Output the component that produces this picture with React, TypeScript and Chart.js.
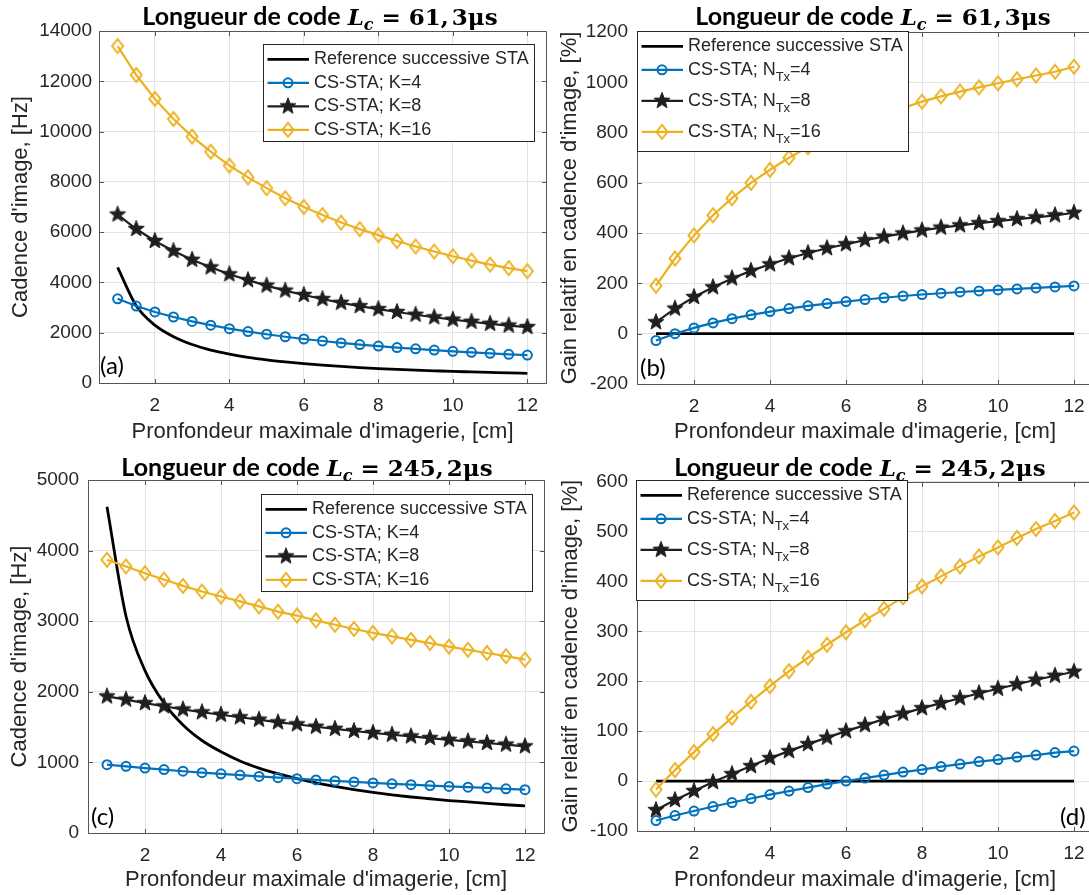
import React, { useEffect, useRef } from "react";
import { Chart, registerables } from "chart.js";

Chart.register(...registerables);

// ---------------- data ----------------
const depthCm = [1, 1.5, 2, 2.5, 3, 3.5, 4, 4.5, 5, 5.5, 6, 6.5, 7, 7.5, 8, 8.5, 9, 9.5, 10, 10.5, 11, 11.5, 12];
const xTickValues = [2, 4, 6, 8, 10, 12];

// (a) frame rate, Lc = 61,3 µs  [Hz]
const refRateA = [4600, 3070, 2300, 1840, 1530, 1310, 1150, 1020, 920, 840, 770, 710, 660, 615, 575, 540, 510, 485, 460, 440, 420, 400, 385];
const rateK4A = [3350, 3060, 2825, 2625, 2450, 2300, 2160, 2045, 1940, 1840, 1750, 1670, 1595, 1530, 1470, 1410, 1360, 1310, 1260, 1220, 1180, 1140, 1110];
const rateK8A = [6700, 6125, 5650, 5250, 4900, 4600, 4325, 4090, 3875, 3675, 3500, 3340, 3190, 3060, 2940, 2825, 2715, 2615, 2520, 2435, 2355, 2285, 2225];
const rateK16A = [13400, 12250, 11300, 10500, 9800, 9200, 8650, 8180, 7750, 7350, 7000, 6680, 6380, 6120, 5880, 5650, 5430, 5230, 5040, 4870, 4710, 4570, 4450];

// (b) relative gain, Lc = 61,3 µs  [%]
const refGainB = [0, 0, 0, 0, 0, 0, 0, 0, 0, 0, 0, 0, 0, 0, 0, 0, 0, 0, 0, 0, 0, 0, 0];
const gainN4B = [-27, 0, 23, 43, 60, 75, 88, 100, 111, 120, 128, 136, 143, 150, 156, 161, 166, 170, 174, 178, 182, 186, 190];
const gainN8B = [46, 100, 146, 185, 220, 250, 276, 300, 321, 340, 356, 372, 386, 399, 411, 422, 431, 440, 448, 456, 463, 471, 481];
const gainN16B = [191, 299, 391, 471, 539, 600, 652, 700, 742, 779, 813, 844, 871, 898, 923, 944, 963, 980, 996, 1012, 1027, 1042, 1062];

// (c) frame rate, Lc = 245,2 µs  [Hz]
const refRateC = [4620, 3070, 2300, 1840, 1530, 1310, 1150, 1020, 920, 840, 770, 710, 660, 615, 575, 540, 510, 485, 460, 440, 420, 400, 385];
const rateK4C = [968, 944, 920, 898, 875, 855, 838, 820, 802, 784, 770, 752, 738, 723, 709, 696, 684, 672, 660, 649, 638, 626, 614];
const rateK8C = [1935, 1890, 1840, 1795, 1750, 1710, 1675, 1640, 1605, 1568, 1540, 1505, 1475, 1445, 1418, 1392, 1368, 1345, 1320, 1298, 1275, 1252, 1228];
const rateK16C = [3870, 3775, 3680, 3590, 3500, 3420, 3350, 3280, 3210, 3135, 3080, 3010, 2950, 2890, 2835, 2785, 2735, 2690, 2640, 2595, 2550, 2505, 2455];

// (d) relative gain, Lc = 245,2 µs  [%]
const refGainD = [0, 0, 0, 0, 0, 0, 0, 0, 0, 0, 0, 0, 0, 0, 0, 0, 0, 0, 0, 0, 0, 0, 0];
const gainN4D = [-79, -69, -60, -51, -43, -35, -27, -20, -13, -6, 0, 6, 12, 18, 23, 29, 34, 39, 43, 48, 52, 57, 60];
const gainN8D = [-58, -38, -20, -2, 14, 30, 46, 60, 74, 87, 100, 112, 124, 135, 146, 156, 166, 176, 185, 194, 203, 211, 219];
const gainN16D = [-17, 22, 58, 94, 127, 159, 190, 220, 247, 273, 298, 322, 345, 368, 390, 410, 430, 450, 468, 487, 505, 521, 538];

const yTicksA = [0, 2000, 4000, 6000, 8000, 10000, 12000, 14000];
const yTicksB = [-200, 0, 200, 400, 600, 800, 1000, 1200];
const yTicksC = [0, 1000, 2000, 3000, 4000, 5000];
const yTicksD = [-100, 0, 100, 200, 300, 400, 500, 600];

const titleLead = "Longueur de code";
const codeA = "61,3μs";
const codeC = "245,2μs";
const xTitle = "Pronfondeur maximale d'imagerie, [cm]";
const yTitleRate = "Cadence d'image, [Hz]";
const yTitleGain = "Gain relatif en cadence d'image, [%]";
const labelsK = ["Reference successive STA", "CS-STA; K=4", "CS-STA; K=8", "CS-STA; K=16"];
const labelsN = ["Reference successive STA", "CS-STA; N_{Tx}=4", "CS-STA; N_{Tx}=8", "CS-STA; N_{Tx}=16"];

// ---------------- styles ----------------
const FONT = '"Liberation Sans", Arial, sans-serif';
const TXT = "#262626";
const GRID = "#e3e3e3";
const AXIS = "#555555";
const BLUE = "#0072BD";
const YELLOW = "#EDB120";
const STARC = "#1f1f1f";
const REFC = "#000000";

let starImg: HTMLCanvasElement | null = null;
let diamondImg: HTMLCanvasElement | null = null;

function getStar() {
  if (starImg) return starImg;
  const r = 8.5;
  const s = 20;
  const c = document.createElement("canvas");
  c.width = s;
  c.height = s;
  const g = c.getContext("2d")!;
  g.translate(s / 2, s / 2);
  g.beginPath();
  for (let i = 0; i < 10; i++) {
    const rad = i % 2 === 0 ? r : r * 0.42;
    const a = -Math.PI / 2 + (i * Math.PI) / 5;
    if (i === 0) g.moveTo(rad * Math.cos(a), rad * Math.sin(a));
    else g.lineTo(rad * Math.cos(a), rad * Math.sin(a));
  }
  g.closePath();
  g.fillStyle = STARC;
  g.fill();
  g.strokeStyle = STARC;
  g.lineWidth = 1;
  g.stroke();
  starImg = c;
  return c;
}

function getDiamond() {
  if (diamondImg) return diamondImg;
  const s = 20;
  const hw = 5.5;
  const hh = 7;
  const c = document.createElement("canvas");
  c.width = s;
  c.height = s;
  const g = c.getContext("2d")!;
  g.translate(s / 2, s / 2);
  g.beginPath();
  g.moveTo(0, -hh);
  g.lineTo(hw, 0);
  g.lineTo(0, hh);
  g.lineTo(-hw, 0);
  g.closePath();
  g.strokeStyle = YELLOW;
  g.lineWidth = 2;
  g.stroke();
  diamondImg = c;
  return c;
}

type PanelSpec = {
  canvas: { x: number; y: number; w: number; h: number };
  plot: { L: number; T: number; R: number; B: number };
  yMin: number;
  yMax: number;
  yTicks: number[];
  yTitle: string;
  series: number[][];
  labels: string[];
  code: string;
  title: { cx: number; base: number };
  legend: { x: number; y: number };
  letter: { text: string; x: number; y: number };
  yTickPad: number;
  yTitlePad: number;
  xTitlePad: number;
};

const panels: PanelSpec[] = [
  {
    canvas: { x: 0, y: 0, w: 560, h: 450 },
    plot: { L: 99, T: 31, R: 546, B: 383 },
    yMin: 0, yMax: 14000, yTicks: yTicksA, yTitle: yTitleRate,
    series: [refRateA, rateK4A, rateK8A, rateK16A], labels: labelsK, code: codeA,
    title: { cx: 320, base: 25 }, legend: { x: 263, y: 44 },
    letter: { text: "(a)", x: 100, y: 366 },
    yTickPad: 7, yTitlePad: 7.8, xTitlePad: 4.8,
  },
  {
    canvas: { x: 545, y: 0, w: 560, h: 450 },
    plot: { L: 637, T: 32, R: 1095, B: 384 },
    yMin: -200, yMax: 1200, yTicks: yTicksB, yTitle: yTitleGain,
    series: [refGainB, gainN4B, gainN8B, gainN16B], labels: labelsN, code: codeA,
    title: { cx: 873, base: 25 }, legend: { x: 637, y: 31 },
    letter: { text: "(b)", x: 640, y: 368 },
    yTickPad: 9, yTitlePad: 11.3, xTitlePad: 4.8,
  },
  {
    canvas: { x: 0, y: 447, w: 560, h: 448 },
    plot: { L: 88, T: 480, R: 544, B: 833 },
    yMin: 0, yMax: 5000, yTicks: yTicksC, yTitle: yTitleRate,
    series: [refRateC, rateK4C, rateK8C, rateK16C], labels: labelsK, code: codeC,
    title: { cx: 307, base: 476 }, legend: { x: 261, y: 494 },
    letter: { text: "(c)", x: 91, y: 817.5 },
    yTickPad: 9, yTitlePad: 6.8, xTitlePad: 1.8,
  },
  {
    canvas: { x: 545, y: 447, w: 560, h: 448 },
    plot: { L: 637, T: 481.5, R: 1096, B: 831 },
    yMin: -100, yMax: 600, yTicks: yTicksD, yTitle: yTitleGain,
    series: [refGainD, gainN4D, gainN8D, gainN16D], labels: labelsN, code: codeC,
    title: { cx: 860, base: 476 }, legend: { x: 636, y: 480 },
    letter: { text: "(d)", x: 1060, y: 817.5 },
    yTickPad: 9, yTitlePad: 12.8, xTitlePad: 1.8,
  },
];

function parseLabel(s: string) {
  const m = s.match(/^(.*)_\{(.*)\}(.*)$/);
  if (!m) return { pre: s, sub: "", post: "" };
  return { pre: m[1], sub: m[2], post: m[3] };
}

function drawMarker(ctx: CanvasRenderingContext2D, i: number, x: number, y: number) {
  if (i === 1) {
    ctx.save();
    ctx.strokeStyle = BLUE;
    ctx.lineWidth = 2;
    ctx.beginPath();
    ctx.arc(x, y, 4.5, 0, Math.PI * 2);
    ctx.stroke();
    ctx.restore();
  } else if (i === 2) {
    const img = getStar();
    ctx.drawImage(img, x - img.width / 2, y - img.height / 2);
  } else if (i === 3) {
    const img = getDiamond();
    ctx.drawImage(img, x - img.width / 2, y - img.height / 2);
  }
}

function buildConfig(p: PanelSpec): any {
  const { canvas: cv, plot } = p;
  const colors = [REFC, BLUE, STARC, YELLOW];
  const widths = [2.8, 2.2, 2.2, 2.2];
  const datasets = p.series.map((vals, i) => ({
    label: p.labels[i],
    data: depthCm.map((x, j) => ({ x, y: vals[j] })),
    borderColor: colors[i],
    borderWidth: widths[i],
    backgroundColor: "rgba(0,0,0,0)",
    pointRadius: i === 0 ? 0 : i === 1 ? 4.5 : 10,
    pointBorderWidth: 2,
    pointBorderColor: colors[i],
    pointBackgroundColor: "rgba(0,0,0,0)",
    pointStyle: i === 0 ? "circle" : i === 1 ? "circle" : i === 2 ? getStar() : getDiamond(),
    cubicInterpolationMode: i === 0 ? "monotone" : "default",
    tension: 0,
    order: 3 - i,
    clip: 8,
  }));

  const framePlugin = {
    id: "frameBox",
    beforeDatasetsDraw(chart: any) {
      const { ctx, chartArea: a, scales } = chart;
      ctx.save();
      ctx.strokeStyle = AXIS;
      ctx.lineWidth = 1;
      const l = Math.round(a.left) + 0.5;
      const t = Math.round(a.top) + 0.5;
      const r = Math.round(a.right) + 0.5;
      const b = Math.round(a.bottom) + 0.5;
      ctx.beginPath();
      ctx.moveTo(l, t);
      ctx.lineTo(r, t);
      ctx.lineTo(r, b);
      ctx.lineTo(l, b);
      ctx.closePath();
      const tl = 4.5;
      for (const v of xTickValues) {
        const px = Math.round(scales.x.getPixelForValue(v)) + 0.5;
        ctx.moveTo(px, b);
        ctx.lineTo(px, b - tl);
        ctx.moveTo(px, t);
        ctx.lineTo(px, t + tl);
      }
      for (const v of p.yTicks) {
        const py = Math.round(scales.y.getPixelForValue(v)) + 0.5;
        ctx.moveTo(l, py);
        ctx.lineTo(l + tl, py);
        ctx.moveTo(r, py);
        ctx.lineTo(r - tl, py);
      }
      ctx.stroke();
      ctx.restore();
    },
  };

  const overlayPlugin = {
    id: "overlay",
    afterDatasetsDraw(chart: any) {
      const ctx: CanvasRenderingContext2D = chart.ctx;
      // legend
      const bx = p.legend.x - cv.x;
      const by = p.legend.y - cv.y;
      const mainFont = `18px ${FONT}`;
      const subFont = `13px ${FONT}`;
      const items = p.labels.map(parseLabel);
      ctx.save();
      let maxW = 0;
      items.forEach((it) => {
        ctx.font = mainFont;
        let w = ctx.measureText(it.pre).width;
        if (it.sub) {
          ctx.font = subFont;
          w += ctx.measureText(it.sub).width;
          ctx.font = mainFont;
          w += ctx.measureText(it.post).width;
        }
        maxW = Math.max(maxW, w);
      });
      const heights = items.map((it) => (it.sub ? 31 : 23.5));
      const bw = Math.round(51 + maxW + 5);
      const bh = Math.round(3.6 + heights.reduce((s, h) => s + h, 0) - 0.5);
      ctx.fillStyle = "#ffffff";
      ctx.fillRect(bx, by, bw, bh);
      ctx.strokeStyle = "#262626";
      ctx.lineWidth = 1;
      ctx.strokeRect(Math.round(bx) + 0.5, Math.round(by) + 0.5, bw, bh);
      let top = by + 3.6;
      items.forEach((it, i) => {
        const cy = top + 11.75;
        const ds = chart.data.datasets[i];
        ctx.strokeStyle = ds.borderColor;
        ctx.lineWidth = ds.borderWidth;
        ctx.beginPath();
        ctx.moveTo(bx + 4.5, cy);
        ctx.lineTo(bx + 46, cy);
        ctx.stroke();
        drawMarker(ctx, i, bx + 25, cy);
        ctx.fillStyle = TXT;
        ctx.textBaseline = "middle";
        ctx.textAlign = "left";
        let tx = bx + 51;
        ctx.font = mainFont;
        ctx.fillText(it.pre, tx, cy);
        tx += ctx.measureText(it.pre).width;
        if (it.sub) {
          ctx.font = subFont;
          ctx.fillText(it.sub, tx, cy + 8);
          tx += ctx.measureText(it.sub).width;
          ctx.font = mainFont;
          ctx.fillText(it.post, tx, cy);
        }
        top += heights[i];
      });
      ctx.restore();
    },
    afterDraw(chart: any) {
      const ctx: CanvasRenderingContext2D = chart.ctx;
      ctx.save();
      // title
      const [num, dec] = p.code.split(",");
      const serif = '"DejaVu Serif", serif';
      const parts = [
        { t: titleLead, f: 'bold 25px Lato, "Open Sans", sans-serif', dy: 0, gap: 7 },
        { t: "L", f: `italic bold 23px ${serif}`, dy: 0, gap: 0 },
        { t: "c", f: `italic bold 16px ${serif}`, dy: 5, gap: 8 },
        { t: "=", f: `bold 23px ${serif}`, dy: 0, gap: 8 },
        { t: num + ",", f: `bold 23px ${serif}`, dy: 0, gap: 3 },
        { t: dec, f: `bold 23px ${serif}`, dy: 0, gap: 0 },
      ];
      let total = 0;
      const ws = parts.map((pt) => {
        ctx.font = pt.f;
        const w = ctx.measureText(pt.t).width;
        total += w + pt.gap;
        return w;
      });
      let x = p.title.cx - cv.x - total / 2;
      const base = p.title.base - cv.y;
      ctx.fillStyle = "#000000";
      ctx.textBaseline = "alphabetic";
      ctx.textAlign = "left";
      parts.forEach((pt, i) => {
        ctx.font = pt.f;
        ctx.fillText(pt.t, x, base + pt.dy);
        x += ws[i] + pt.gap;
      });
      // panel letter
      ctx.font = '24px Lato, "Open Sans", sans-serif';
      ctx.fillStyle = "#000000";
      ctx.textBaseline = "middle";
      ctx.fillText(p.letter.text, p.letter.x - cv.x, p.letter.y - cv.y);
      ctx.restore();
    },
  };

  return {
    type: "line",
    data: { datasets },
    options: {
      responsive: false,
      animation: false,
      events: [],
      devicePixelRatio: 1,
      layout: {
        padding: { left: 0, top: plot.T - cv.y, right: cv.x + cv.w - plot.R, bottom: 0 },
      },
      plugins: {
        legend: { display: false },
        title: { display: false },
        tooltip: { enabled: false },
      },
      scales: {
        x: {
          type: "linear",
          min: 0.5,
          max: 12.5,
          afterBuildTicks: (s: any) => {
            s.ticks = xTickValues.map((v) => ({ value: v }));
          },
          afterFit: (s: any) => {
            s.height = cv.y + cv.h - plot.B;
          },
          grid: { color: GRID, lineWidth: 1, drawTicks: false },
          border: { display: false },
          ticks: {
            color: TXT,
            font: { family: FONT, size: 19 },
            padding: 11,
            maxRotation: 0,
            autoSkip: false,
            callback: (v: any) => String(v),
          },
          title: {
            display: true,
            text: xTitle,
            color: TXT,
            font: { family: FONT, size: 22 },
            padding: { top: 0, bottom: p.xTitlePad },
          },
        },
        y: {
          type: "linear",
          min: p.yMin,
          max: p.yMax,
          afterBuildTicks: (s: any) => {
            s.ticks = p.yTicks.map((v) => ({ value: v }));
          },
          afterFit: (s: any) => {
            s.width = plot.L - cv.x;
          },
          grid: { color: GRID, lineWidth: 1, drawTicks: false },
          border: { display: false },
          ticks: {
            color: TXT,
            font: { family: FONT, size: 19 },
            padding: p.yTickPad,
            autoSkip: false,
            callback: (v: any) => String(v),
          },
          title: {
            display: true,
            text: p.yTitle,
            color: TXT,
            font: { family: FONT, size: 22 },
            padding: { top: p.yTitlePad, bottom: 0 },
          },
        },
      },
    },
    plugins: [framePlugin, overlayPlugin],
  };
}

function Panel({ spec }: { spec: PanelSpec }) {
  const ref = useRef<HTMLCanvasElement | null>(null);
  useEffect(() => {
    if (!ref.current) return;
    const chart = new Chart(ref.current, buildConfig(spec));
    return () => chart.destroy();
  }, [spec]);
  return (
    <canvas
      ref={ref}
      width={spec.canvas.w}
      height={spec.canvas.h}
      style={{
        position: "absolute",
        left: spec.canvas.x,
        top: spec.canvas.y,
        width: spec.canvas.w,
        height: spec.canvas.h,
      }}
    />
  );
}

export default function App() {
  return (
    <div
      style={{
        position: "absolute",
        left: 0,
        top: 0,
        width: 1089,
        height: 895,
        overflow: "hidden",
        background: "#ffffff",
      }}
    >
      {panels.map((p, i) => (
        <Panel key={i} spec={p} />
      ))}
    </div>
  );
}
